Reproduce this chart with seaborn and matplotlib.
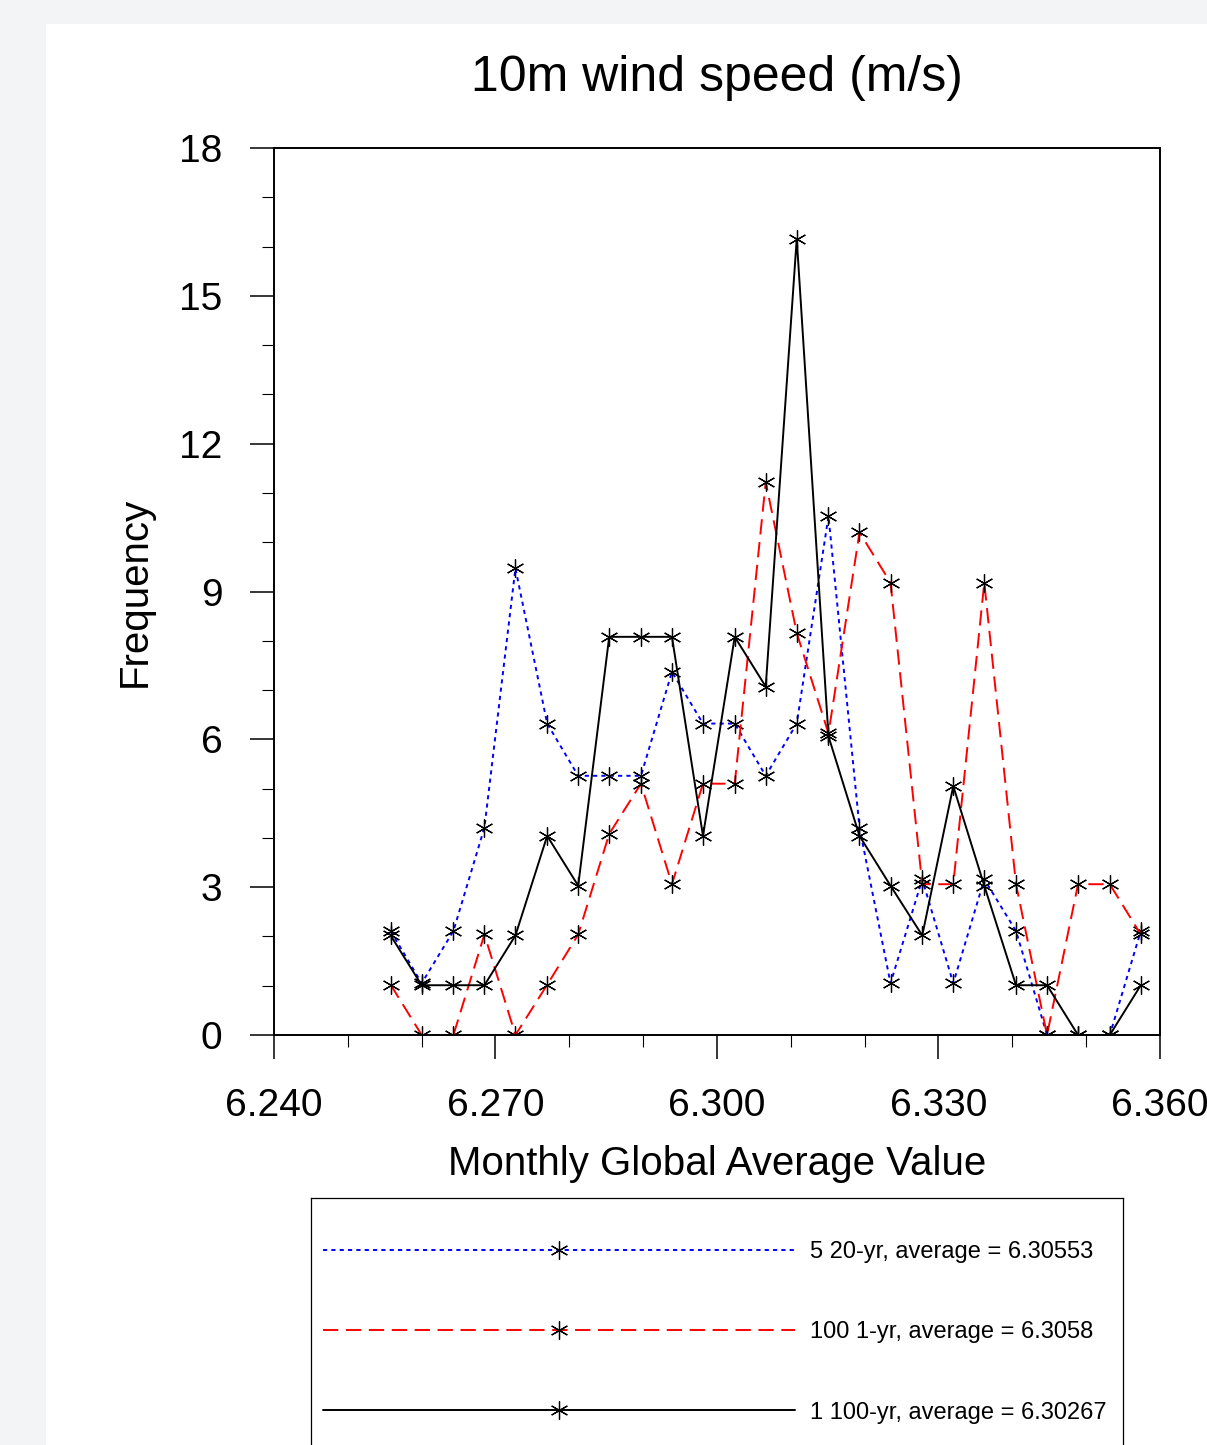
import pandas as pd
import seaborn as sns
import matplotlib.pyplot as plt
from matplotlib.lines import Line2D
from matplotlib.patches import Rectangle
from matplotlib.ticker import MultipleLocator, FormatStrFormatter

# bin centres (monthly global average value)
bins = [6.2558, 6.2600, 6.2643, 6.2685, 6.2727, 6.2770, 6.2812, 6.2854, 6.2897,
        6.2939, 6.2981, 6.3024, 6.3066, 6.3108, 6.3151, 6.3193, 6.3235, 6.3278,
        6.3320, 6.3362, 6.3405, 6.3447, 6.3489, 6.3532, 6.3574]

freq_5x20 = [2.11, 1.05, 2.11, 4.21, 9.47, 6.32, 5.26, 5.26, 5.26, 7.37, 6.32, 6.32,
             5.26, 6.32, 10.53, 4.21, 1.05, 3.16, 1.05, 3.16, 2.11, 0, 0, 0, 2.11]
freq_100x1 = [1.02, 0, 0, 2.04, 0, 1.02, 2.04, 4.08, 5.10, 3.06, 5.10, 5.10,
              11.22, 8.16, 6.12, 10.20, 9.18, 3.06, 3.06, 9.18, 3.06, 0, 3.06, 3.06, 2.04]
freq_1x100 = [2.02, 1.01, 1.01, 1.01, 2.02, 4.04, 3.03, 8.08, 8.08, 8.08, 4.04, 8.08,
              7.07, 16.16, 6.06, 4.04, 3.03, 2.02, 5.05, 3.03, 1.01, 1.01, 0, 0, 1.01]

runs = ["5 20-yr", "100 1-yr", "1 100-yr"]
averages = [6.30553, 6.3058, 6.30267]
colors = {"5 20-yr": "#0000ff", "100 1-yr": "#ff0000", "1 100-yr": "black"}
dash_styles = {"5 20-yr": (3, 3), "100 1-yr": (11, 5.5), "1 100-yr": ""}

df = pd.concat([
    pd.DataFrame({"x": bins, "freq": f, "run": r})
    for r, f in zip(runs, [freq_5x20, freq_100x1, freq_1x100])
])

sns.set_style("ticks")
plt.rcParams["font.family"] = ["Liberation Sans", "DejaVu Sans"]
plt.rcParams["lines.scale_dashes"] = False
for key in ["text.color", "axes.labelcolor", "xtick.color", "ytick.color"]:
    plt.rcParams[key] = "black"

W, H = 1207, 1445
fig = plt.figure(figsize=(W / 100, H / 100), dpi=100, facecolor="#f3f4f6")
fig.patches.append(Rectangle((46 / W, 0), 1 - 46 / W, 1 - 24 / H, transform=fig.transFigure,
                             facecolor="white", edgecolor="none", zorder=-10))

ax = fig.add_axes([274 / W, 1 - 1035 / H, (1160 - 274) / W, (1035 - 148) / H])
star = (6, 2, 0)
sns.lineplot(data=df, x="x", y="freq", hue="run", style="run", hue_order=runs,
             style_order=runs, palette=colors, dashes=dash_styles,
             markers={r: star for r in runs}, markersize=13, linewidth=1.4,
             errorbar=None, legend=False, ax=ax)
for line in ax.lines:
    line.set_markeredgecolor("black")
    line.set_markerfacecolor("black")
    line.set_markeredgewidth(0.9)

ax.set_xlim(6.24, 6.36)
ax.set_ylim(0, 18)
ax.xaxis.set_major_locator(MultipleLocator(0.03))
ax.xaxis.set_minor_locator(MultipleLocator(0.01))
ax.xaxis.set_major_formatter(FormatStrFormatter("%.3f"))
ax.yaxis.set_major_locator(MultipleLocator(3))
ax.yaxis.set_minor_locator(MultipleLocator(1))
ax.tick_params(which="major", direction="out", length=17, width=1.1, labelsize=28,
               color="black")
ax.tick_params(axis="x", which="major", pad=21)
ax.tick_params(axis="y", which="major", pad=20)
ax.tick_params(which="minor", direction="out", length=8.5, width=0.8, color="black")
for s in ax.spines.values():
    s.set_linewidth(1.4)
    s.set_color("black")

ax.set_title("10m wind speed (m/s)", fontsize=36, pad=41)
ax.set_xlabel("Monthly Global Average Value", fontsize=29, labelpad=15)
ax.set_ylabel("Frequency", fontsize=29, labelpad=18)

# legend box (runs off the bottom of the page)
lax = fig.add_axes([311 / W, -0.05, (1123 - 311) / W, 1 - 1198 / H + 0.05])
lax.set_xticks([])
lax.set_yticks([])
for s in lax.spines.values():
    s.set_linewidth(0.9)
    s.set_color("black")

handles = [Line2D([], [], color=colors[r], dashes=dash_styles[r] if dash_styles[r] else (None, None),
                  linewidth=1.4, marker=star, markersize=13, markeredgecolor="black",
                  markeredgewidth=0.9)
           for r in runs]
labels = ["%s, average = %s" % (r, a) for r, a in zip(runs, averages)]
fs = 17
fs_px = fs / 0.72
lax.legend(handles, labels, loc="upper left", bbox_to_anchor=(323 / W, 1 - 1241 / H),
           bbox_transform=fig.transFigure, frameon=False, fontsize=fs, numpoints=1,
           handlelength=472 / fs_px, handletextpad=15 / fs_px, labelspacing=2.47,
           borderpad=0, borderaxespad=0)

plt.savefig("out.png", dpi=100, facecolor=fig.get_facecolor())
